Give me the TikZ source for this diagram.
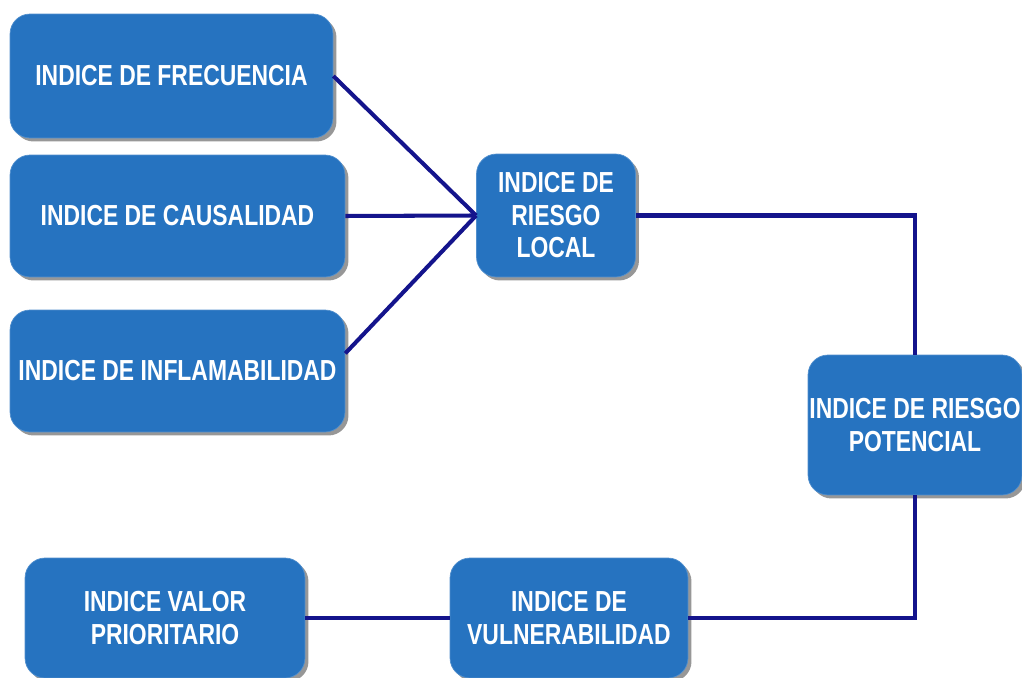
\documentclass[tikz,border=0pt]{standalone}
\usepackage{fontspec}
\setsansfont[FakeStretch=0.79]{Liberation Sans}
\usepackage{tikz}
\usetikzlibrary{shadows}
\usepackage{xcolor}
\definecolor{boxblue}{RGB}{38,115,192}
\definecolor{linenavy}{RGB}{20,20,140}

\begin{document}
\begin{tikzpicture}[x=0.02cm, y=-0.02cm,
    indexbox/.style={draw=boxblue!80!white, fill=boxblue, rounded corners=0.4cm, align=center,
        text=white, font=\sffamily\bfseries\fontsize{16.5}{18.5}\selectfont, inner sep=0pt,
        drop shadow={shadow xshift=0.07cm, shadow yshift=-0.07cm, fill=black!45, opacity=0.9}},
    link/.style={draw=linenavy, line width=2.3pt}]
            \useasboundingbox (0,0) rectangle (1022,678);
            \node[indexbox, minimum width=6.46cm, minimum height=2.48cm] (frec) at (171.5,76) {INDICE DE FRECUENCIA};
            \node[indexbox, minimum width=6.7cm, minimum height=2.44cm] (caus) at (177.5,216) {INDICE DE CAUSALIDAD};
            \node[indexbox, minimum width=6.7cm, minimum height=2.44cm] (infl) at (177.5,371) {INDICE DE INFLAMABILIDAD};
            \node[indexbox, minimum width=3.18cm, minimum height=2.46cm] (local) at (556,215.5) {INDICE DE\\RIESGO\\LOCAL};
            \node[indexbox, minimum width=4.28cm, minimum height=2.8cm] (pot) at (915,425) {INDICE DE RIESGO\\POTENCIAL};
            \node[indexbox, minimum width=5.6cm, minimum height=2.4cm] (valor) at (165,618) {INDICE VALOR\\PRIORITARIO};
            \node[indexbox, minimum width=4.76cm, minimum height=2.4cm] (vuln) at (569,618) {INDICE DE\\VULNERABILIDAD};

            \draw[link] (frec.east) -- (local.west);
            \draw[link] (caus.east) -- (local.west);
            \draw[link] (infl.6) -- (local.west);
            \draw[link] (local.east) -| (pot.north);
            \draw[link] (pot.south) |- (vuln.east);
            \draw[link] (valor.east) -- (vuln.west);
        \end{tikzpicture}
\end{document}
